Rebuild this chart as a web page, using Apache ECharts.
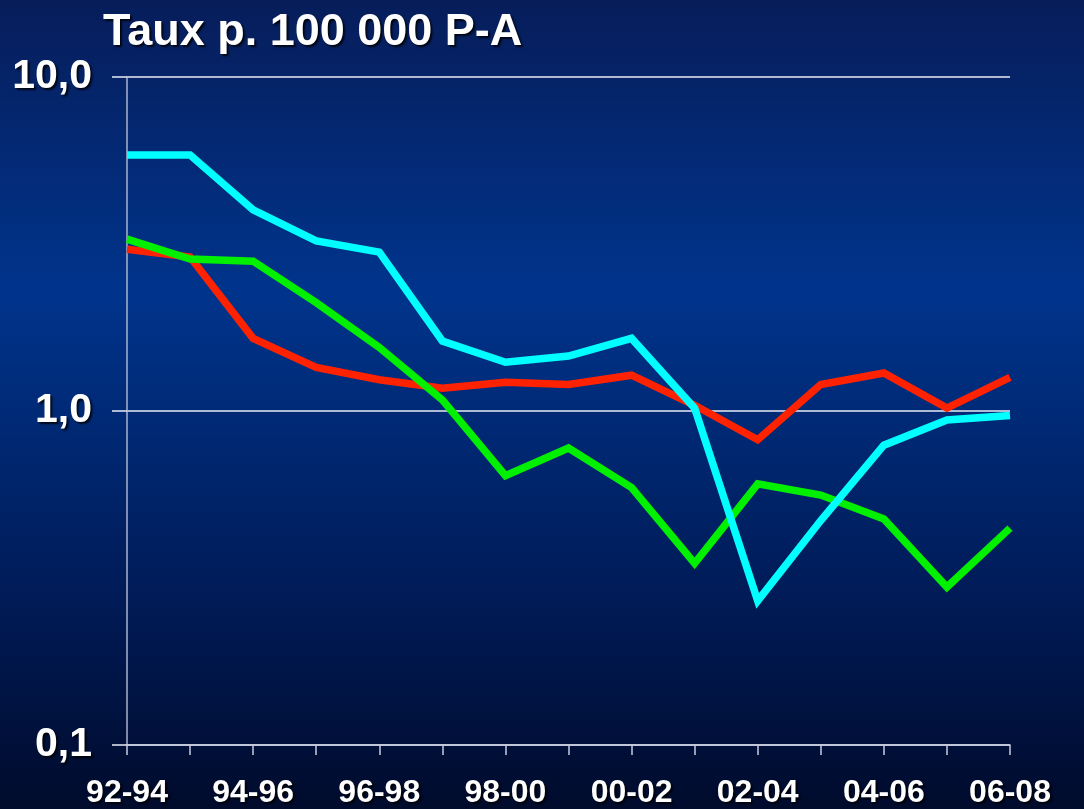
<!DOCTYPE html>
<html>
<head>
<meta charset="utf-8">
<script src="https://cdn.jsdelivr.net/npm/echarts@6/dist/echarts.min.js"></script>
<style>
  html, body { margin: 0; padding: 0; background: #001a50; }
  #chart { width: 1084px; height: 809px; }
</style>
</head>
<body>
<div id="chart"></div>
<script>
const periods = ['92-94', '93-95', '94-96', '95-97', '96-98', '97-99', '98-00', '99-01',
  '00-02', '01-03', '02-04', '03-05', '04-06', '05-07', '06-08']
const cyanSeries = [5.84, 5.84, 4.0, 3.23, 2.99, 1.62, 1.40, 1.46, 1.65, 1.02, 0.27, 0.47, 0.79, 0.94, 0.97]
const redSeries = [3.05, 2.89, 1.65, 1.35, 1.24, 1.17, 1.22, 1.20, 1.28, 1.04, 0.82, 1.20, 1.30, 1.02, 1.26]
const greenSeries = [3.27, 2.85, 2.81, 2.11, 1.55, 1.08, 0.64, 0.775, 0.59, 0.35, 0.605, 0.56, 0.475, 0.297, 0.446]
const yTicks = [0.1, 1, 10]

const chart = echarts.init(document.getElementById('chart'))

const shadow = {
  textShadowColor: 'rgba(0,0,0,0.8)',
  textShadowOffsetX: 2,
  textShadowOffsetY: 2,
  textShadowBlur: 2,
}

const line = (data, color) => ({
  type: 'line',
  data,
  symbol: 'none',
  lineStyle: { color, width: 7.5, cap: 'butt', join: 'miter' },
  z: 3,
})

chart.setOption({
  animation: false,
  backgroundColor: new echarts.graphic.LinearGradient(0, 0, 0, 1, [
    { offset: 0, color: '#071d5a' },
    { offset: 0.36, color: '#00348c' },
    { offset: 0.75, color: '#001a55' },
    { offset: 1, color: '#000b2c' },
  ]),
  title: {
    text: 'Taux p. 100 000 P-A',
    left: 98,
    top: 5,
    textStyle: {
      color: '#fff',
      fontFamily: 'Liberation Sans',
      fontWeight: 'bold',
      fontSize: 45,
      ...shadow,
    },
  },
  grid: { left: 127, right: 74, top: 77, bottom: 64 },
  xAxis: {
    type: 'category',
    data: periods,
    boundaryGap: false,
    axisLine: { lineStyle: { color: '#c8cde0', width: 1.5 } },
    axisTick: { show: true, interval: 0, length: 10, lineStyle: { color: '#c8cde0', width: 1.5 } },
    axisLabel: {
      interval: 1,
      margin: 32,
      color: '#fff',
      fontFamily: 'Liberation Sans',
      fontWeight: 'bold',
      fontSize: 32,
      ...shadow,
    },
    splitLine: { show: false },
  },
  yAxis: {
    type: 'log',
    logBase: 10,
    min: yTicks[0],
    max: yTicks[yTicks.length - 1],
    axisLine: { show: true, lineStyle: { color: '#aab3cc', width: 1.5 } },
    axisTick: { show: true, length: 15, lineStyle: { color: '#e8ecf5', width: 1.5 } },
    minorTick: { show: false },
    axisLabel: {
      margin: 35,
      color: '#fff',
      fontFamily: 'Liberation Sans',
      fontWeight: 'bold',
      fontSize: 41,
      formatter: v => v.toFixed(1).replace('.', ','),
      ...shadow,
    },
    splitLine: { show: true, lineStyle: { color: '#e8ecf5', width: 1.5 } },
  },
  series: [
    line(redSeries, '#ff2200'),
    line(greenSeries, '#00f000'),
    line(cyanSeries, '#00ffff'),
  ],
})
</script>
</body>
</html>
